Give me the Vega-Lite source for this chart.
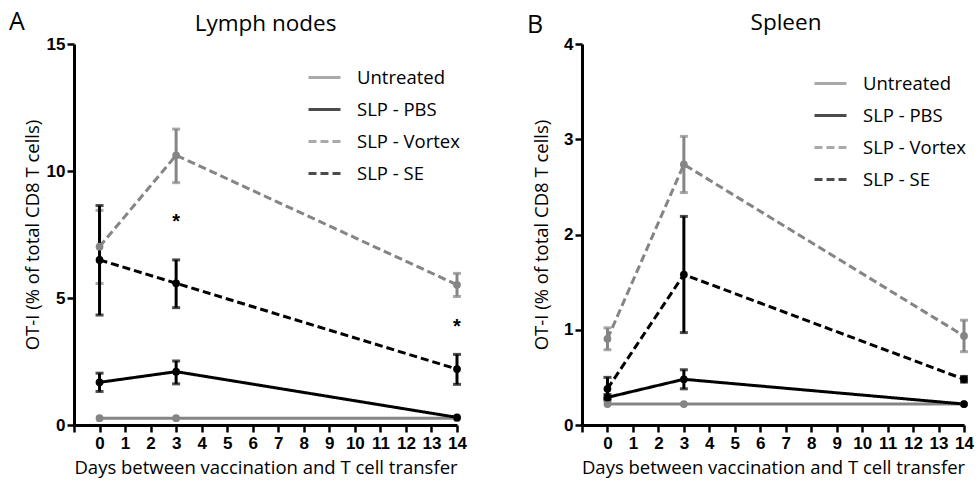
{
  "$schema": "https://vega.github.io/schema/vega-lite/v6.json",
  "background": "white",
  "padding": {"left": 8, "top": 10, "right": 5, "bottom": 2},
  "config": {
    "font": "Open Sans",
    "view": {"stroke": null},
    "axis": {
      "grid": false,
      "domainColor": "black",
      "domainWidth": 3,
      "tickColor": "black",
      "tickWidth": 2.5,
      "tickSize": 7,
      "labelFont": "Liberation Sans",
      "labelFontWeight": 900,
      "labelFontSize": 17,
      "labelColor": "black",
      "labelOverlap": false,
      "labelFlush": false,
      "titleFont": "Open Sans",
      "titleFontWeight": "normal",
      "titleFontSize": 18.5,
      "titleColor": "black"
    },
    "title": {"font": "Open Sans", "fontSize": 22.5, "fontWeight": "normal", "color": "black"},
    "legend": {"padding": 0}
  },
  "datasets": {
    "obs": [
      {"panel": "A", "group": "Untreated", "day": 0, "mean": 0.27, "lo": null, "hi": null},
      {"panel": "A", "group": "Untreated", "day": 3, "mean": 0.27, "lo": null, "hi": null},
      {"panel": "A", "group": "Untreated", "day": 14, "mean": 0.27, "lo": null, "hi": null},
      {"panel": "A", "group": "SLP - PBS", "day": 0, "mean": 1.68, "lo": 1.32, "hi": 2.04},
      {"panel": "A", "group": "SLP - PBS", "day": 3, "mean": 2.1, "lo": 1.62, "hi": 2.52},
      {"panel": "A", "group": "SLP - PBS", "day": 14, "mean": 0.3, "lo": null, "hi": null},
      {"panel": "A", "group": "SLP - Vortex", "day": 0, "mean": 7.02, "lo": 5.57, "hi": 8.45},
      {"panel": "A", "group": "SLP - Vortex", "day": 3, "mean": 10.62, "lo": 9.54, "hi": 11.65},
      {"panel": "A", "group": "SLP - Vortex", "day": 14, "mean": 5.52, "lo": 5.06, "hi": 5.97},
      {"panel": "A", "group": "SLP - SE", "day": 0, "mean": 6.5, "lo": 4.33, "hi": 8.64},
      {"panel": "A", "group": "SLP - SE", "day": 3, "mean": 5.58, "lo": 4.62, "hi": 6.5},
      {"panel": "A", "group": "SLP - SE", "day": 14, "mean": 2.2, "lo": 1.6, "hi": 2.78},
      {"panel": "B", "group": "Untreated", "day": 0, "mean": 0.22, "lo": null, "hi": null},
      {"panel": "B", "group": "Untreated", "day": 3, "mean": 0.22, "lo": null, "hi": null},
      {"panel": "B", "group": "Untreated", "day": 14, "mean": 0.22, "lo": null, "hi": null},
      {"panel": "B", "group": "SLP - PBS", "day": 0, "mean": 0.29, "lo": 0.26, "hi": 0.32},
      {"panel": "B", "group": "SLP - PBS", "day": 3, "mean": 0.48, "lo": 0.38, "hi": 0.58},
      {"panel": "B", "group": "SLP - PBS", "day": 14, "mean": 0.22, "lo": null, "hi": null},
      {"panel": "B", "group": "SLP - Vortex", "day": 0, "mean": 0.905, "lo": 0.79, "hi": 1.02},
      {"panel": "B", "group": "SLP - Vortex", "day": 3, "mean": 2.735, "lo": 2.44, "hi": 3.03},
      {"panel": "B", "group": "SLP - Vortex", "day": 14, "mean": 0.935, "lo": 0.77, "hi": 1.1},
      {"panel": "B", "group": "SLP - SE", "day": 0, "mean": 0.38, "lo": 0.28, "hi": 0.5},
      {"panel": "B", "group": "SLP - SE", "day": 3, "mean": 1.58, "lo": 0.97, "hi": 2.19},
      {"panel": "B", "group": "SLP - SE", "day": 14, "mean": 0.48, "lo": 0.45, "hi": 0.51}
    ],
    "notes": [
      {"panel": "A", "kind": "star", "day": 3, "mean": 8.15, "label": "*"},
      {"panel": "A", "kind": "star", "day": 14, "mean": 4.0, "label": "*"},
      {"panel": "A", "kind": "letter", "day": -3.24, "mean": 15.85, "label": "A"},
      {"panel": "B", "kind": "letter", "day": -2.84, "mean": 4.2, "label": "B"}
    ]
  },
  "hconcat": [
    {
      "width": 383,
      "height": 381,
      "title": {"text": "Lymph nodes", "frame": "group", "offset": -25},
      "encoding": {
        "x": {"field": "day", "type": "quantitative", "scale": {"domain": [-1, 14], "nice": false, "zero": false},
              "axis": {"values": [-1,0,1,2,3,4,5,6,7,8,9,10,11,12,13,14], "format": "d", "labelExpr": "datum.value < 0 ? '' : datum.label", "labelPadding": 3, "labelFont": "Liberation Sans", "labelFontWeight": 900, "labelFontSize": 17, "labelOverlap": false, "labelFlush": false, "title": "Days between vaccination and T cell transfer", "titlePadding": 7}},
        "y": {"field": "mean", "type": "quantitative", "scale": {"domain": [0, 15], "nice": false},
              "axis": {"values": [0, 5, 10, 15], "format": "d", "labelPadding": 2, "labelFont": "Liberation Sans", "labelFontWeight": 900, "labelFontSize": 17, "labelFlush": false, "title": "OT-I (% of total CD8 T cells)", "titlePadding": 4}}
      },
      "layer": [
        {
          "data": {"name": "obs"},
          "transform": [{"filter": "datum.panel == 'A'"}],
          "mark": {"type": "line", "strokeWidth": 3},
          "encoding": {
            "color": {"field": "group", "type": "nominal",
                      "scale": {"domain": ["Untreated", "SLP - PBS", "SLP - Vortex", "SLP - SE"], "range": ["#858585", "#000000", "#858585", "#000000"]},
                      "legend": {"orient": "none", "legendX": 233, "legendY": 16, "title": null, "symbolType": "stroke", "symbolSize": 1024, "symbolStrokeWidth": 3, "labelFont": "Open Sans", "labelFontSize": 18.5, "labelColor": "black", "labelOffset": 15, "rowPadding": 5}},
            "strokeDash": {"field": "group", "type": "nominal",
                      "scale": {"domain": ["Untreated", "SLP - PBS", "SLP - Vortex", "SLP - SE"], "range": [[1, 0], [1, 0], [8, 4], [8, 4]]},
                      "legend": {"orient": "none", "legendX": 233, "legendY": 16, "title": null, "symbolType": "stroke", "symbolSize": 1024, "symbolStrokeWidth": 3, "labelFont": "Open Sans", "labelFontSize": 18.5, "labelColor": "black", "labelOffset": 15, "rowPadding": 5}}
          }
        },
        {
          "data": {"name": "obs"},
          "transform": [{"filter": "datum.panel == 'A' && isValid(datum.lo)"}],
          "mark": {"type": "errorbar", "thickness": 3, "ticks": {"size": 8, "thickness": 3}},
          "encoding": {
            "y": {"field": "lo", "type": "quantitative",
                  "axis": {"values": [0, 5, 10, 15], "format": "d", "labelPadding": 2, "labelFont": "Liberation Sans", "labelFontWeight": 900, "labelFontSize": 17, "labelFlush": false, "title": "OT-I (% of total CD8 T cells)", "titlePadding": 4}},
            "y2": {"field": "hi"},
            "color": {"field": "group", "type": "nominal"}
          }
        },
        {
          "data": {"name": "obs"},
          "transform": [{"filter": "datum.panel == 'A'"}],
          "mark": {"type": "circle", "size": 60, "opacity": 1},
          "encoding": {
            "color": {"field": "group", "type": "nominal"}
          }
        },
        {
          "data": {"name": "notes"},
          "transform": [{"filter": "datum.panel == 'A' && datum.kind == 'star'"}],
          "mark": {"type": "text", "font": "Liberation Sans", "fontSize": 20, "fontWeight": "bold", "baseline": "middle", "align": "center", "dy": 4, "color": "black"},
          "encoding": {
            "text": {"field": "label"}
          }
        },
        {
          "data": {"name": "notes"},
          "transform": [{"filter": "datum.panel == 'A' && datum.kind == 'letter'"}],
          "mark": {"type": "text", "font": "Open Sans", "fontSize": 25, "baseline": "middle", "align": "center", "color": "black"},
          "encoding": {
            "text": {"field": "label"}
          }
        }
      ]
    },
    {
      "width": 382,
      "height": 381,
      "title": {"text": "Spleen", "frame": "group", "offset": -22, "dx": 13},
      "encoding": {
        "x": {"field": "day", "type": "quantitative", "scale": {"domain": [-1, 14], "nice": false, "zero": false},
              "axis": {"values": [-1,0,1,2,3,4,5,6,7,8,9,10,11,12,13,14], "format": "d", "labelExpr": "datum.value < 0 ? '' : datum.label", "labelPadding": 3, "labelFont": "Liberation Sans", "labelFontWeight": 900, "labelFontSize": 17, "labelOverlap": false, "labelFlush": false, "title": "Days between vaccination and T cell transfer", "titlePadding": 7}},
        "y": {"field": "mean", "type": "quantitative", "scale": {"domain": [0, 4], "nice": false},
              "axis": {"values": [0, 1, 2, 3, 4], "format": "d", "labelPadding": 2, "labelFont": "Liberation Sans", "labelFontWeight": 900, "labelFontSize": 17, "labelFlush": false, "title": "OT-I (% of total CD8 T cells)", "titlePadding": 12}}
      },
      "layer": [
        {
          "data": {"name": "obs"},
          "transform": [{"filter": "datum.panel == 'B'"}],
          "mark": {"type": "line", "strokeWidth": 3},
          "encoding": {
            "color": {"field": "group", "type": "nominal",
                      "scale": {"domain": ["Untreated", "SLP - PBS", "SLP - Vortex", "SLP - SE"], "range": ["#858585", "#000000", "#858585", "#000000"]},
                      "legend": {"orient": "none", "legendX": 231, "legendY": 22, "title": null, "symbolType": "stroke", "symbolSize": 1024, "symbolStrokeWidth": 3, "labelFont": "Open Sans", "labelFontSize": 18.5, "labelColor": "black", "labelOffset": 15, "rowPadding": 5}},
            "strokeDash": {"field": "group", "type": "nominal",
                      "scale": {"domain": ["Untreated", "SLP - PBS", "SLP - Vortex", "SLP - SE"], "range": [[1, 0], [1, 0], [8, 4], [8, 4]]},
                      "legend": {"orient": "none", "legendX": 231, "legendY": 22, "title": null, "symbolType": "stroke", "symbolSize": 1024, "symbolStrokeWidth": 3, "labelFont": "Open Sans", "labelFontSize": 18.5, "labelColor": "black", "labelOffset": 15, "rowPadding": 5}}
          }
        },
        {
          "data": {"name": "obs"},
          "transform": [{"filter": "datum.panel == 'B' && isValid(datum.lo)"}],
          "mark": {"type": "errorbar", "thickness": 3, "ticks": {"size": 8, "thickness": 3}},
          "encoding": {
            "y": {"field": "lo", "type": "quantitative",
                  "axis": {"values": [0, 1, 2, 3, 4], "format": "d", "labelPadding": 2, "labelFont": "Liberation Sans", "labelFontWeight": 900, "labelFontSize": 17, "labelFlush": false, "title": "OT-I (% of total CD8 T cells)", "titlePadding": 12}},
            "y2": {"field": "hi"},
            "color": {"field": "group", "type": "nominal"}
          }
        },
        {
          "data": {"name": "obs"},
          "transform": [{"filter": "datum.panel == 'B'"}],
          "mark": {"type": "circle", "size": 60, "opacity": 1},
          "encoding": {
            "color": {"field": "group", "type": "nominal"}
          }
        },
        {
          "data": {"name": "notes"},
          "transform": [{"filter": "datum.panel == 'B' && datum.kind == 'letter'"}],
          "mark": {"type": "text", "font": "Open Sans", "fontSize": 25, "baseline": "middle", "align": "center", "color": "black"},
          "encoding": {
            "text": {"field": "label"}
          }
        }
      ]
    }
  ],
  "spacing": 60,
  "resolve": {
    "scale": {"x": "independent", "y": "independent", "color": "independent", "strokeDash": "independent"},
    "legend": {"color": "independent", "strokeDash": "independent"}
  }
}
